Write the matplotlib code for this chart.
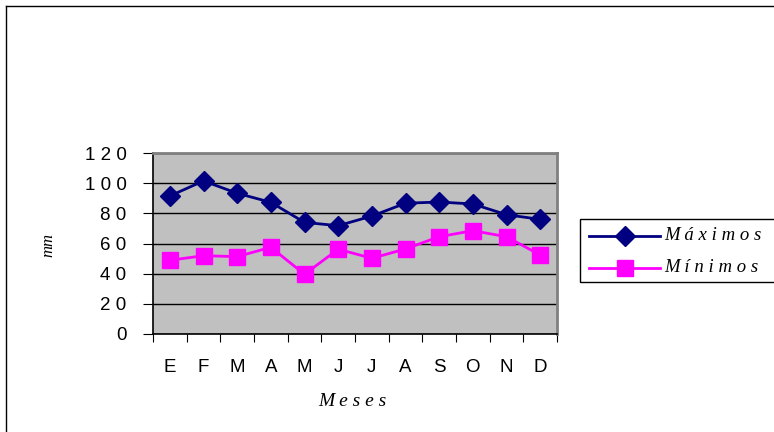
import matplotlib
matplotlib.use("Agg")
import matplotlib.pyplot as plt
from matplotlib.patches import Rectangle
from matplotlib.lines import Line2D

meses = ["E", "F", "M", "A", "M", "J", "J", "A", "S", "O", "N", "D"]
maximos = [91.5, 101.5, 93.3, 87.3, 74.0, 71.8, 78.2, 86.7, 87.5, 86.2, 79.1, 76.0]
minimos = [48.9, 51.9, 51.3, 57.5, 39.6, 56.2, 50.2, 56.4, 64.5, 68.5, 64.5, 52.4]
y_ticks = [0, 20, 40, 60, 80, 100, 120]
series_names = ["M á x i m o s", "M í n i m o s"]

NAVY = "#000080"
MAGENTA = "#FF00FF"

W, H = 774, 432
fig = plt.figure(figsize=(W / 100, H / 100), dpi=100)
fig.patch.set_facecolor("white")


def fx(px):
    return px / W


def fy(py):
    return 1 - py / H


# outer frame lines (top and left)
fig.add_artist(Line2D([fx(6), 1], [fy(6), fy(6)], color="black", lw=1.0,
                      transform=fig.transFigure))
fig.add_artist(Line2D([fx(6), fx(6)], [0, fy(6)], color="black", lw=1.0,
                      transform=fig.transFigure))

left, right, top, bottom = 153, 557, 153, 334
ax = fig.add_axes([fx(left), fy(bottom), (right - left) / W, (bottom - top) / H])
ax.set_facecolor("#C0C0C0")

x = list(range(len(meses)))
styles = [dict(color=NAVY, marker="D", markersize=10),
          dict(color=MAGENTA, marker="s", markersize=12)]
for vals, st in zip([maximos, minimos], styles):
    ax.plot(x, vals, color=st["color"], lw=2, marker=st["marker"],
            markersize=st["markersize"], markerfacecolor=st["color"],
            markeredgecolor=st["color"], zorder=3)

ax.set_xlim(-0.5, len(meses) - 0.5)
ax.set_ylim(0, 120)
ax.set_yticks(y_ticks)
ax.set_yticklabels([" ".join(str(v)) for v in y_ticks], fontfamily="Liberation Sans",
                   fontsize=13.5)
ax.yaxis.grid(True, color="black", lw=1)
ax.set_axisbelow(True)

# category ticks sit at boundaries, labels at centres
ax.set_xticks([i - 0.5 for i in range(len(meses) + 1)])
ax.set_xticklabels([])
ax.set_xticks(x, minor=True)
ax.set_xticklabels(meses, minor=True, fontfamily="Liberation Sans", fontsize=13.5)
ax.tick_params(axis="x", which="minor", length=0, pad=18)
ax.tick_params(axis="x", which="major", length=5.5, direction="out", color="black")
ax.tick_params(axis="y", length=7, direction="out", color="black", pad=12)

for side in ["top", "right"]:
    ax.spines[side].set_color("#808080")
    ax.spines[side].set_linewidth(2)
for side in ["left", "bottom"]:
    ax.spines[side].set_color("black")
    ax.spines[side].set_linewidth(1.2)

fig.text(fx(48), fy(245), "mm", rotation=90, ha="center", va="center",
         fontfamily="Liberation Serif", fontstyle="italic", fontsize=12)
fig.text(fx(352), fy(402), "M e s e s", ha="center", va="center",
         fontfamily="Liberation Serif", fontstyle="italic", fontsize=14)

# legend box, running off the right edge
fig.add_artist(Rectangle((fx(580), fy(282)), fx(800) - fx(580), (282 - 219) / H,
                         transform=fig.transFigure, facecolor="white",
                         edgecolor="black", lw=1.0))
for row_y, name, st in zip([236, 268], series_names, styles):
    fig.add_artist(Line2D([fx(589), fx(660)], [fy(row_y), fy(row_y)],
                          color=st["color"], lw=2, transform=fig.transFigure))
    fig.add_artist(Line2D([fx(624.5)], [fy(row_y)], color=st["color"], lw=0,
                          marker=st["marker"], markersize=st["markersize"],
                          markerfacecolor=st["color"], markeredgecolor=st["color"],
                          transform=fig.transFigure))
    fig.text(fx(664), fy(row_y), name, ha="left", va="center",
             fontfamily="Liberation Serif", fontstyle="italic", fontsize=13.5)

fig.savefig("out.png", dpi=100)
